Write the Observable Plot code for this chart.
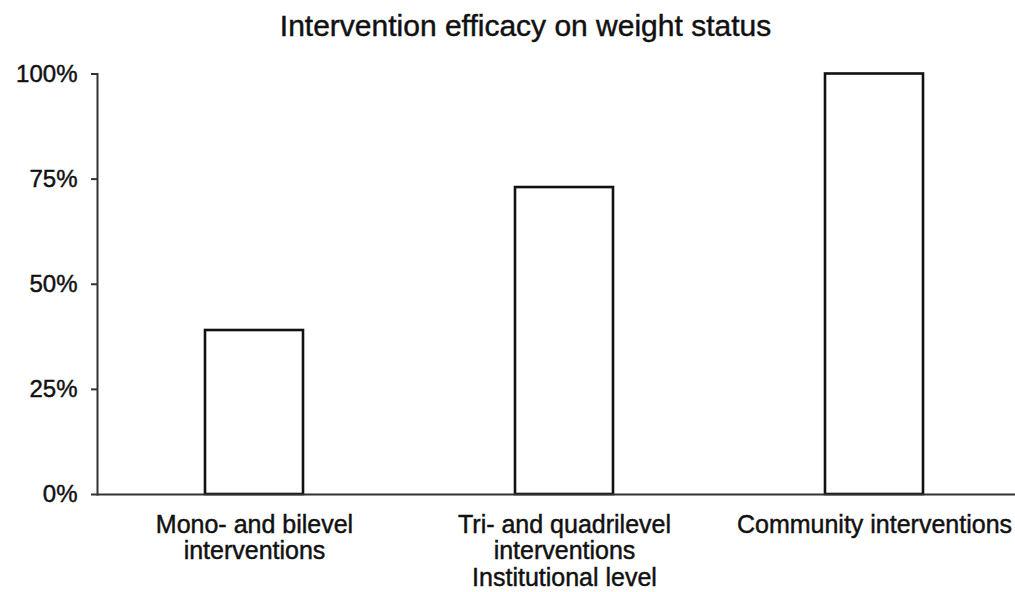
<!DOCTYPE html>
<html>
<head>
<meta charset="utf-8">
<script src="https://cdn.jsdelivr.net/npm/d3@7"></script>
<script src="https://cdn.jsdelivr.net/npm/@observablehq/plot@0.6"></script>
<style>
  html, body { margin: 0; padding: 0; background: #fff; }
  #chart svg { display: block; }
  #chart svg text { stroke: #111; stroke-width: 0.45px; }
</style>
</head>
<body>
<div id="chart"></div>
<script>
const title = "Intervention efficacy on weight status";
const categories = [
  "Mono- and bilevel\ninterventions",
  "Tri- and quadrilevel\ninterventions\nInstitutional level",
  "Community interventions"
];
const values = [0.39, 0.73, 1.00];
const yTicks = [0, 0.25, 0.5, 0.75, 1];

const data = categories.map((c, i) => ({category: c, value: values[i]}));
const font = "'Liberation Sans', Arial, Helvetica, sans-serif";

const chart = Plot.plot({
  width: 1015,
  height: 592,
  marginTop: 73.5,
  marginBottom: 98,
  marginLeft: 97,
  marginRight: 0,
  style: {fontFamily: font, fontSize: "24px", color: "#111", background: "#fff"},
  x: {domain: categories, range: [97, 1031], paddingInner: 0.684, paddingOuter: 0.348},
  y: {domain: [0, 1], range: [494, 73.5]},
  marks: [
    Plot.barY(data, {x: "category", y: "value", fill: "#fff", stroke: "#111", strokeWidth: 2.6}),
    Plot.frame({anchor: "left", stroke: "#333", strokeWidth: 2}),
    Plot.ruleY([0], {stroke: "#333", strokeWidth: 2.2}),
    Plot.axisY({ticks: yTicks, tickFormat: d => Math.round(d * 100) + "%", tickSize: 6, tickPadding: 14, label: null, fontSize: 24, strokeWidth: 2, stroke: "#333"}),
    Plot.axisX({tickSize: 0, tickPadding: 19, label: null, fontSize: 25, lineHeight: 1.07, tickFormat: d => d}),
    Plot.text([title], {frameAnchor: "top", dx: -31, dy: -38.5, lineAnchor: "bottom", fontSize: 30, fill: "#111"})
  ]
});
document.getElementById("chart").appendChild(chart);
</script>
</body>
</html>
